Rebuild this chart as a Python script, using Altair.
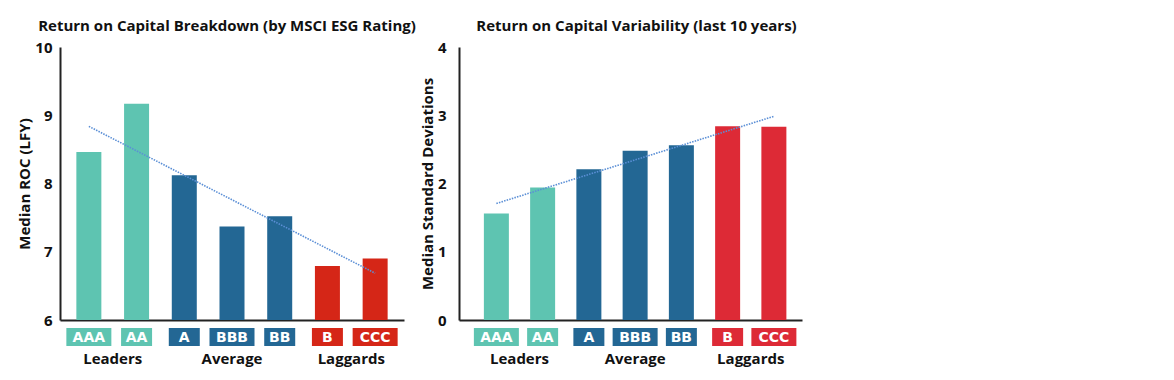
import altair as alt
import pandas as pd

ratings = ["AAA", "AA", "A", "BBB", "BB", "B", "CCC"]
groups = ["Leaders", "Leaders", "Average", "Average", "Average", "Laggards", "Laggards"]
group_order = ["Leaders", "Average", "Laggards"]
roc_values = [8.46, 9.17, 8.12, 7.37, 7.52, 6.79, 6.90]
std_values = [1.56, 1.94, 2.21, 2.48, 2.56, 2.84, 2.83]
roc_ticks = [6, 7, 8, 9, 10]
std_ticks = [0, 1, 2, 3, 4]

FONT = "Open Sans"
BOX_FONT = "DejaVu Sans"
TEAL = "#5EC4B1"
BLUE = "#236794"
RED_LEFT = "#D52617"
RED_RIGHT = "#DD2A36"
INK = "#111111"


def panel(values, title, ytitle, ydomain, yticks, xdomain, red, width, title_dx,
          label_pad, title_pad):
    df = pd.DataFrame({
        "idx": list(range(len(ratings))),
        "rating": ratings,
        "group": groups,
        "value": values,
    })
    color = alt.Color("group:N",
                      scale=alt.Scale(domain=group_order, range=[TEAL, BLUE, red]),
                      legend=None)
    xscale = alt.Scale(domain=xdomain, nice=False, zero=False)
    xaxis = alt.Axis(title=None, labels=False, ticks=False, grid=False,
                     domainColor="#222222", domainWidth=2)
    yaxis = alt.Axis(title=ytitle, values=yticks, format="d", ticks=False, grid=False,
                     domainColor="#222222", domainWidth=2,
                     labelFont=FONT, labelFontSize=15, labelFontWeight="bold",
                     labelColor=INK, labelPadding=label_pad,
                     titleFont=FONT, titleFontSize=15, titleFontWeight="bold",
                     titleColor=INK, titlePadding=title_pad)
    base = alt.Chart(df)
    bars = base.mark_bar(size=25).encode(
        x=alt.X("idx:Q", scale=xscale, axis=xaxis),
        y=alt.Y("value:Q", scale=alt.Scale(domain=ydomain, nice=False, zero=False), axis=yaxis),
        y2=alt.Y2(datum=ydomain[0]),
        color=color,
    )
    trend = base.transform_regression("idx", "value").mark_line(
        color="#5B8FD6", strokeWidth=1.6, strokeDash=[1.5, 1.2]
    ).encode(
        x=alt.X("idx:Q", scale=xscale, axis=xaxis),
        y=alt.Y("value:Q"),
    )
    boxes = base.transform_calculate(
        bw="length(datum.rating) >= 3 ? 45 : 31"
    ).mark_bar(orient="vertical").encode(
        x=alt.X("idx:Q", scale=xscale, axis=xaxis),
        y=alt.value(281),
        y2=alt.value(299),
        size=alt.Size("bw:Q", scale=None, legend=None),
        color=color,
    )
    box_text = base.mark_text(font=BOX_FONT, fontSize=14, fontWeight="bold", color="white").encode(
        x=alt.X("idx:Q", scale=xscale, axis=xaxis),
        y=alt.value(290.5),
        text="rating:N",
    )
    group_text = base.transform_aggregate(
        pos="mean(idx)", groupby=["group"]
    ).mark_text(font=FONT, fontSize=15, fontWeight="bold", color=INK).encode(
        x=alt.X("pos:Q", scale=xscale, axis=xaxis),
        y=alt.value(312),
        text="group:N",
    )
    return alt.layer(bars, trend, boxes, box_text, group_text).properties(
        width=width,
        height=273,
        title=alt.TitleParams(text=title, font=FONT, fontSize=15, fontWeight="bold",
                              color=INK, anchor="middle", dx=title_dx, offset=6),
    )


left = panel(roc_values, "Return on Capital Breakdown (by MSCI ESG Rating)", "Median ROC (LFY)",
             [6, 10], roc_ticks, [-0.5, 6.5], RED_LEFT, 344, -5, 8, 2)
right = panel(std_values, "Return on Capital Variability (last 10 years)", "Median Standard Deviations",
              [0, 4], std_ticks, [-0.7, 6.5], RED_RIGHT, 343, 6, 13, 2)

chart = alt.hconcat(left, right, spacing=55, bounds="flush").resolve_scale(
    color="independent", x="independent", y="independent"
).properties(
    padding={"left": 9, "top": 11, "right": 5, "bottom": 5}
).configure_view(stroke=None)

chart.save("out.html", embed_options={"renderer": "svg", "actions": False})
